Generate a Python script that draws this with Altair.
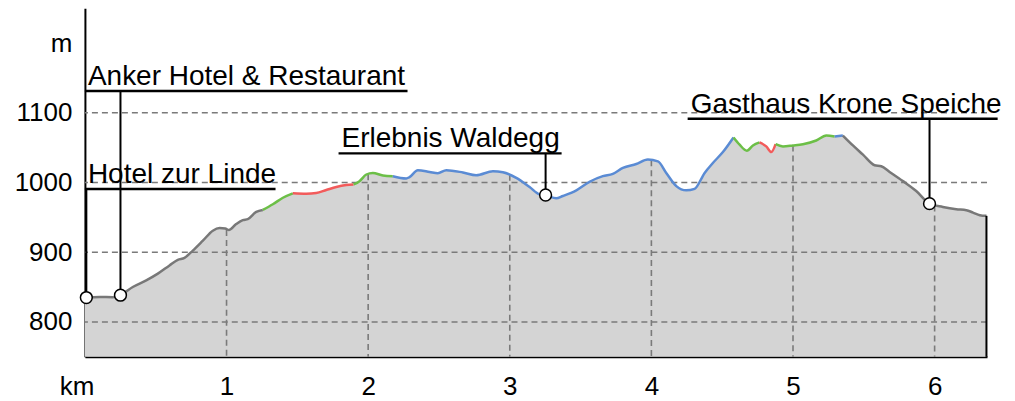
import altair as alt
import pandas as pd

# ---- profile (distance in km, elevation in m) ----
km = [0.0, 0.103, 0.197, 0.249, 0.338, 0.433, 0.515, 0.597, 0.656, 0.703, 0.762, 0.833,
      0.903, 0.951, 0.991, 1.016, 1.068, 1.115, 1.150, 1.210, 1.256, 1.327, 1.398, 1.468,
      1.563, 1.633, 1.704, 1.775, 1.845, 1.897, 1.939, 1.987, 2.033, 2.104, 2.174, 2.269,
      2.292, 2.351, 2.434, 2.492, 2.552, 2.669, 2.763, 2.881, 2.951, 3.046, 3.140, 3.210,
      3.253, 3.328, 3.375, 3.470, 3.563, 3.657, 3.728, 3.799, 3.893, 3.975, 4.046, 4.105,
      4.176, 4.246, 4.305, 4.376, 4.434, 4.505, 4.580, 4.623, 4.674, 4.717, 4.764, 4.811,
      4.847, 4.877, 4.929, 4.999, 5.070, 5.164, 5.235, 5.294, 5.352, 5.423, 5.494, 5.576,
      5.623, 5.682, 5.776, 5.870, 5.964, 6.058, 6.153, 6.224, 6.271, 6.319, 6.366]
elev = [835, 836, 835.6, 838.4, 850.2, 859.7, 869.3, 881.1, 889.2, 892, 902.4, 916.6,
        930.9, 934.7, 934.1, 931.9, 940.4, 946.1, 947.5, 957.9, 960.7, 968.8, 978.2, 984.5,
        983.9, 984.9, 989.2, 993.5, 996.3, 997.3, 1002, 1011.5, 1013.8, 1010.1, 1009.1, 1005.8,
        1007.7, 1017.6, 1015.2, 1013.4, 1017.6, 1014.4, 1010.5, 1016.2, 1014.8, 1006.7, 993.5, 983.1,
        982.1, 977.4, 980.7, 988.8, 1001, 1009.1, 1012.4, 1020.9, 1026.6, 1032.9, 1030.4, 1013.8,
        994.9, 988.8, 991, 1013.8, 1028, 1043.7, 1064.6, 1054.2, 1045.7, 1053.2, 1057.5, 1051.8,
        1043.7, 1055, 1051.8, 1053.2, 1055, 1060.3, 1067.4, 1066, 1067.4, 1053.2, 1040, 1024.8,
        1023.3, 1015.2, 1002, 987.8, 969.7, 965, 961.7, 960.3, 956.9, 953.2, 952.2]

GRAY, GREEN, RED, BLUE = "#787878", "#6cbf47", "#f25b5b", "#5a8bd4"
seg_start = [0.0, 1.256, 1.468, 1.897, 2.174, 4.580, 4.764, 4.877, 5.294, 5.352]
seg_color = [GRAY, GREEN, RED, GREEN, BLUE, GREEN, RED, GREEN, BLUE, GRAY]

# ---- points of interest ----
poi_name = ["Hotel zur Linde", "Anker Hotel & Restaurant", "Erlebnis Waldegg", "Gasthaus Krone Speiche"]
poi_km = [0.01, 0.251, 3.253, 5.964]
poi_elev = [835, 838.4, 982.1, 969.7]
label_elev = [990.6, 1131.4, 1041.8, 1091.6]
label_km_start = [0.0, 0.0, 1.791, 4.256]
label_km_end = [1.346, 2.278, 3.366, 6.445]

# ---- axes / grid ----
y_ticks = [800, 900, 1000, 1100]
x_ticks = [1, 2, 3, 4, 5, 6]
vgrid_top = [932, 1012, 1011, 1032, 1053, 967]
Y_MIN, Y_MAX = 750, 1250
X_MAX = 6.37

FONT = "Liberation Sans"

prof = pd.DataFrame({"km": km, "elev": elev, "base": [Y_MIN] * len(km)})
rows = []
for i, s in enumerate(seg_start):
    e = seg_start[i + 1] if i + 1 < len(seg_start) else 1e9
    for k, v in zip(km, elev):
        if s <= k <= e:
            rows.append({"km": k, "elev": v, "seg": i, "color": seg_color[i]})
segs = pd.DataFrame(rows)

poi = pd.DataFrame({"name": poi_name, "km": poi_km, "elev": poi_elev, "lab": label_elev,
                    "x0": label_km_start, "x1": label_km_end})
hgrid = pd.DataFrame({"elev": y_ticks})
vgrid = pd.DataFrame({"km": x_ticks, "top": vgrid_top, "base": [Y_MIN] * len(x_ticks)})
endline = pd.DataFrame({"km": [km[-1]], "elev": [elev[-1]], "base": [Y_MIN]})
kmlab = pd.DataFrame({"km": [-0.055], "elev": [Y_MIN], "t": ["km"]})

xs = alt.Scale(domain=[0, X_MAX], nice=False, zero=False)
ys = alt.Scale(domain=[Y_MIN, Y_MAX], nice=False, zero=False)

x_axis = alt.Axis(values=x_ticks, format="d", title=None, grid=False, ticks=False,
                  labelFont=FONT, labelFontSize=26, labelColor="black", labelPadding=17,
                  domainColor="black", domainWidth=2)
y_axis = alt.Axis(values=y_ticks + [1200], format="d",
                  labelExpr="datum.value == 1200 ? 'm' : datum.label",
                  title=None, grid=False, ticks=False, labelFont=FONT, labelFontSize=26,
                  labelColor="black", labelPadding=13, domainColor="black", domainWidth=2)

area = alt.Chart(prof).mark_area(color="#d4d4d4", interpolate="monotone").encode(
    x=alt.X("km:Q", scale=xs, axis=x_axis),
    y=alt.Y("elev:Q", scale=ys, axis=y_axis),
    y2="base:Q",
)

hg = alt.Chart(hgrid).mark_rule(color="#7a7a7a", strokeDash=[6, 4], strokeWidth=1.6).encode(
    y=alt.Y("elev:Q", scale=ys)
)
vg = alt.Chart(vgrid).mark_rule(color="#7a7a7a", strokeDash=[6, 4], strokeWidth=1.6).encode(
    x=alt.X("km:Q", scale=xs), y=alt.Y("top:Q", scale=ys), y2="base:Q"
)

lines = alt.Chart(segs).mark_line(strokeWidth=2.5, interpolate="monotone").encode(
    x=alt.X("km:Q", scale=xs),
    y=alt.Y("elev:Q", scale=ys),
    detail="seg:N",
    color=alt.Color("color:N", scale=None),
    order="km:Q",
)

endr = alt.Chart(endline).mark_rule(color="black", strokeWidth=2).encode(
    x=alt.X("km:Q", scale=xs), y=alt.Y("elev:Q", scale=ys), y2="base:Q"
)

underline = alt.Chart(poi).mark_rule(color="black", strokeWidth=2.5).encode(
    x=alt.X("x0:Q", scale=xs), x2="x1:Q", y=alt.Y("lab:Q", scale=ys)
)
stem = alt.Chart(poi).mark_rule(color="black", strokeWidth=2).encode(
    x=alt.X("km:Q", scale=xs), y=alt.Y("lab:Q", scale=ys), y2="elev:Q"
)
markers = alt.Chart(poi).mark_point(shape="circle", filled=True, fill="white", stroke="black",
                                    strokeWidth=1.5, size=140, opacity=1).encode(
    x=alt.X("km:Q", scale=xs), y=alt.Y("elev:Q", scale=ys)
)
texts = alt.Chart(poi).mark_text(align="left", baseline="alphabetic", dx=3, dy=-6,
                                 font=FONT, fontSize=28, color="black").encode(
    x=alt.X("x0:Q", scale=xs), y=alt.Y("lab:Q", scale=ys), text="name:N"
)
kmt = alt.Chart(kmlab).mark_text(align="center", baseline="middle", dy=30,
                                 font=FONT, fontSize=26, color="black").encode(
    x=alt.X("km:Q", scale=xs), y=alt.Y("elev:Q", scale=ys), text="t:N"
)

chart = alt.layer(area, hg, vg, lines, endr, underline, stem, markers, texts, kmt).properties(
    width=903, height=349,
    autosize=alt.AutoSizeParams(type="none"),
    padding={"left": 77, "top": 0, "right": 20, "bottom": 44},
).configure_view(stroke=None)

chart.save("out.html", embed_options={"renderer": "svg", "actions": False})
